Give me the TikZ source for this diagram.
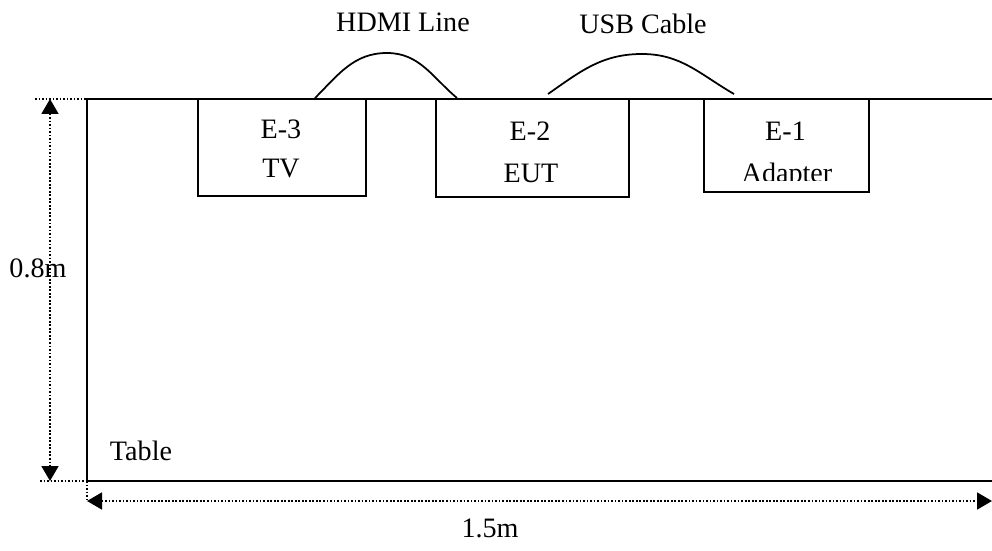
\documentclass[tikz,border=0pt]{standalone}
\usepackage{fontspec}
\setmainfont{Liberation Serif}
\usepackage{tikz}
\usetikzlibrary{arrows.meta}

\begin{document}
\begin{tikzpicture}[
    font=\fontsize{16}{20}\selectfont,
    solid line/.style={line width=1.1pt},
    dim line/.style={line width=1pt, dash pattern=on 1pt off 1pt},
    dim arrow/.style={dim line, {Triangle[length=3mm,width=3.4mm]}-{Triangle[length=3mm,width=3.4mm]}},
    unit/.style={draw, solid line, inner sep=0pt},
    unit text/.style={anchor=base, inner sep=0pt, font=\fontsize{16}{20}\selectfont},
    cable/.style={line width=1pt}
]
    \useasboundingbox (0,0) rectangle (19.84,11);

    % table
    \draw[solid line] (20,9.02) -- (1.74,9.02) -- (1.74,1.38) -- (20,1.38);
    \node at (2.82,1.98) (table) {Table};

    % dimension lines
    \draw[dim line] (0.7,9.02) -- (2.06,9.02);
    \draw[dim line] (0.8,1.38) -- (2.2,1.38);
    \draw[dim line] (1.74,1.38) -- (1.74,0.98);
    \draw[dim arrow] (1.0,9.02) -- (1.0,1.38);
    \draw[dim arrow] (1.74,0.98) -- (19.84,0.98);
    \node at (0.76,5.64) (height) {0.8m};
    \node at (9.8,0.44) (width) {1.5m};

    % units on the table
    \node[unit, minimum width=3.36cm, minimum height=1.94cm] at (5.64,8.05) (tv) {};
    \node[unit, minimum width=3.86cm, minimum height=1.96cm] at (10.65,8.04) (eut) {};
    \node[unit, minimum width=3.30cm, minimum height=1.86cm] at (15.73,8.09) (adapter) {};
    \node[unit text] at (5.62,8.22) (tv name) {E-3};
    \node[unit text] at (5.62,7.44) (tv kind) {TV};
    \node[unit text] at (10.6,8.18) (eut name) {E-2};
    \node[unit text] at (10.62,7.34) (eut kind) {EUT};
    \node[unit text] at (15.71,8.18) (adapter name) {E-1};
    \begin{scope}
        \clip (adapter.north west) rectangle ([yshift=0.24cm]adapter.south east);
        \node[unit text] at (15.74,7.35) (adapter kind) {Adapter};
    \end{scope}

    % cables
    \coordinate (hdmi top) at (7.74,9.94);
    \coordinate (usb top) at (12.84,9.92);
    \draw[cable] ([xshift=0.66cm]tv.north) to[out=45,in=180] (hdmi top) to[out=0,in=140] ([xshift=0.44cm]eut.north west);
    \draw[cable] ([xshift=0.31cm,yshift=0.08cm]eut.north) to[out=35,in=180] (usb top) to[out=0,in=150] ([xshift=0.62cm,yshift=0.08cm]adapter.north west);
    \node at (8.06,10.56) (hdmi) {HDMI Line};
    \node at (12.86,10.52) (usb) {USB Cable};
\end{tikzpicture}
\end{document}
